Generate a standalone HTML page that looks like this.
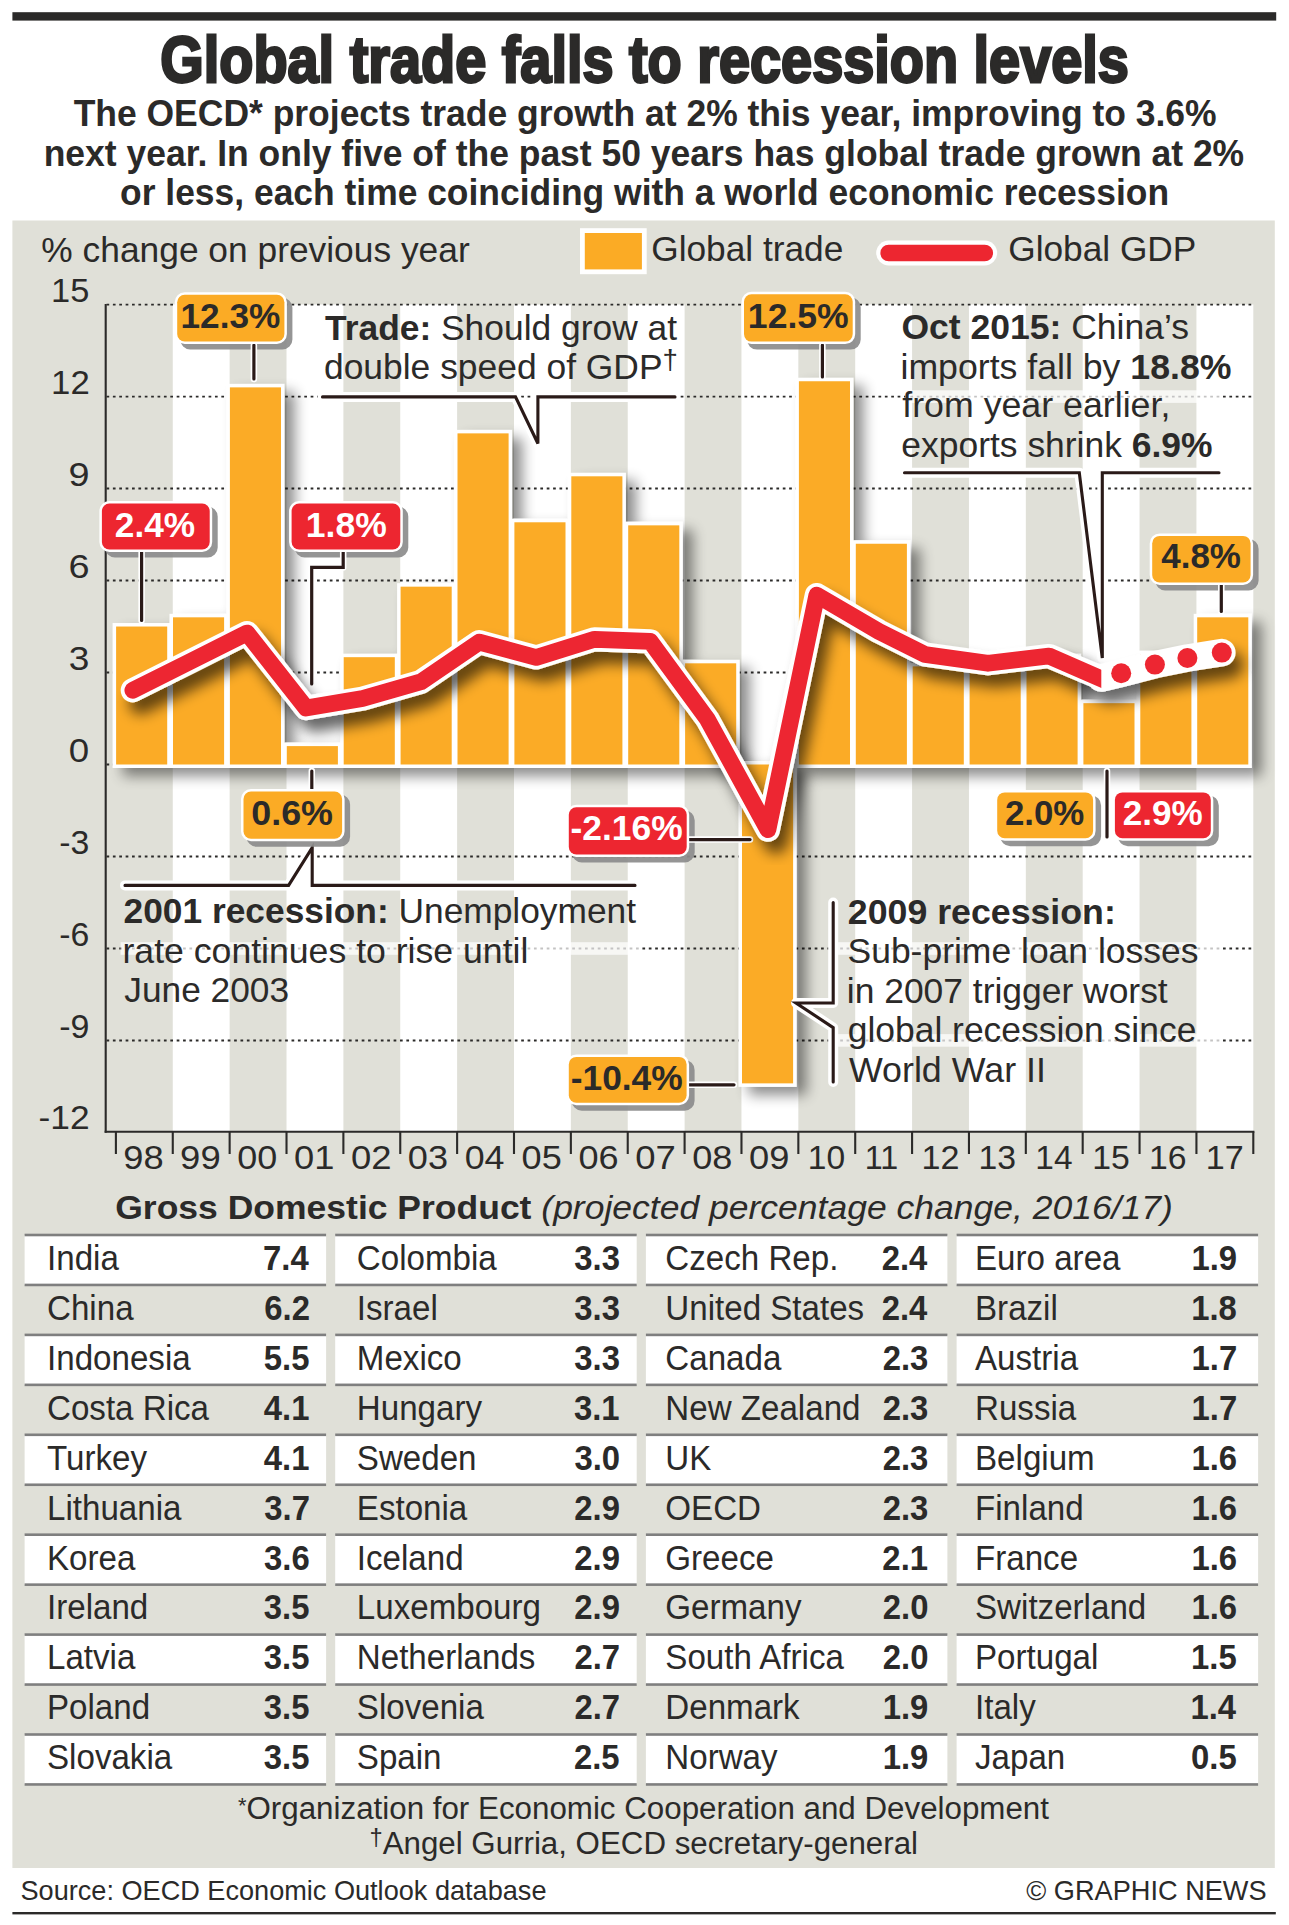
<!DOCTYPE html>
<html lang="en"><head><meta charset="utf-8"><title>Global trade falls to recession levels</title>
<style>html,body{margin:0;padding:0;background:#fff}svg{display:block}text{font-family:"Liberation Sans",Arial,Helvetica,sans-serif;white-space:pre}</style>
</head><body>
<svg width="1289" height="1925" viewBox="0 0 1289 1925">
<rect x="0" y="0" width="1289" height="1925" fill="#fff"/>
<rect x="12.4" y="12.2" width="1263.8" height="8.4" fill="#2b2a29"/>
<text x="160.37" y="82.20" font-size="64.50" fill="#2b2a29" textLength="968.50" lengthAdjust="spacingAndGlyphs" font-weight="bold" stroke="#2b2a29" stroke-width="2.8" stroke-linejoin="miter" stroke-miterlimit="3">Global trade falls to recession levels</text>
<text x="73.65" y="126.40" font-size="36.00" fill="#2b2a29" textLength="1142.94" lengthAdjust="spacingAndGlyphs" font-weight="bold">The OECD* projects trade growth at 2% this year, improving to 3.6%</text>
<text x="43.69" y="166.00" font-size="36.00" fill="#2b2a29" textLength="1200.48" lengthAdjust="spacingAndGlyphs" font-weight="bold">next year. In only five of the past 50 years has global trade grown at 2%</text>
<text x="120.08" y="205.20" font-size="36.00" fill="#2b2a29" textLength="1049.04" lengthAdjust="spacingAndGlyphs" font-weight="bold">or less, each time coinciding with a world economic recession</text>
<rect x="12.4" y="220.5" width="1262.4" height="1647.5" fill="#e0e0d8"/>
<rect x="172.77" y="304.5" width="56.87" height="826.70" fill="#fff"/>
<rect x="286.51" y="304.5" width="56.87" height="826.70" fill="#fff"/>
<rect x="400.25" y="304.5" width="56.87" height="826.70" fill="#fff"/>
<rect x="513.99" y="304.5" width="56.87" height="826.70" fill="#fff"/>
<rect x="627.73" y="304.5" width="56.87" height="826.70" fill="#fff"/>
<rect x="741.47" y="304.5" width="56.87" height="826.70" fill="#fff"/>
<rect x="855.21" y="304.5" width="56.87" height="826.70" fill="#fff"/>
<rect x="968.95" y="304.5" width="56.87" height="826.70" fill="#fff"/>
<rect x="1082.69" y="304.5" width="56.87" height="826.70" fill="#fff"/>
<rect x="1196.43" y="304.5" width="56.87" height="826.70" fill="#fff"/>
<g stroke="#2b2a29" stroke-width="1.9" stroke-dasharray="2.7 3.68" fill="none">
<path d="M106.5 304.60H1252.5"/>
<path d="M106.5 396.58H1252.5"/>
<path d="M106.5 488.56H1252.5"/>
<path d="M106.5 580.54H1252.5"/>
<path d="M106.5 672.52H1252.5"/>
<path d="M106.5 764.50H1252.5"/>
<path d="M106.5 856.48H1252.5"/>
<path d="M106.5 948.46H1252.5"/>
<path d="M106.5 1040.44H1252.5"/>
</g>
<rect x="120.6" y="942.2" width="519.4" height="12.6" fill="#fff" opacity="0.72"/>
<rect x="838.0" y="942.2" width="383.0" height="12.6" fill="#fff" opacity="0.72"/>
<rect x="838.0" y="1034.1" width="383.0" height="12.6" fill="#fff" opacity="0.72"/>
<rect x="905.0" y="390.3" width="317.0" height="12.6" fill="#fff" opacity="0.72"/>
<g stroke="#2b2a29" stroke-width="2.1" fill="none">
<path d="M105.7 304V1132.7"/>
<path d="M104.65 1131.7H1254.4"/>
<path d="M115.90 1131.7V1154"/>
<path d="M172.77 1131.7V1154"/>
<path d="M229.64 1131.7V1154"/>
<path d="M286.51 1131.7V1154"/>
<path d="M343.38 1131.7V1154"/>
<path d="M400.25 1131.7V1154"/>
<path d="M457.12 1131.7V1154"/>
<path d="M513.99 1131.7V1154"/>
<path d="M570.86 1131.7V1154"/>
<path d="M627.73 1131.7V1154"/>
<path d="M684.60 1131.7V1154"/>
<path d="M741.47 1131.7V1154"/>
<path d="M798.34 1131.7V1154"/>
<path d="M855.21 1131.7V1154"/>
<path d="M912.08 1131.7V1154"/>
<path d="M968.95 1131.7V1154"/>
<path d="M1025.82 1131.7V1154"/>
<path d="M1082.69 1131.7V1154"/>
<path d="M1139.56 1131.7V1154"/>
<path d="M1196.43 1131.7V1154"/>
<path d="M1253.30 1131.7V1154"/>
</g>
<text x="51.12" y="302.40" font-size="33.40" fill="#2b2a29" textLength="38.23" lengthAdjust="spacingAndGlyphs">15</text>
<text x="51.10" y="394.38" font-size="33.40" fill="#2b2a29" textLength="38.62" lengthAdjust="spacingAndGlyphs">12</text>
<text x="68.60" y="486.36" font-size="33.40" fill="#2b2a29" textLength="21.05" lengthAdjust="spacingAndGlyphs">9</text>
<text x="68.41" y="578.34" font-size="33.40" fill="#2b2a29" textLength="21.05" lengthAdjust="spacingAndGlyphs">6</text>
<text x="68.82" y="670.32" font-size="33.40" fill="#2b2a29" textLength="20.61" lengthAdjust="spacingAndGlyphs">3</text>
<text x="68.83" y="762.30" font-size="33.40" fill="#2b2a29" textLength="20.39" lengthAdjust="spacingAndGlyphs">0</text>
<text x="59.18" y="854.28" font-size="33.40" fill="#2b2a29" textLength="30.05" lengthAdjust="spacingAndGlyphs">-3</text>
<text x="59.18" y="946.26" font-size="33.40" fill="#2b2a29" textLength="30.05" lengthAdjust="spacingAndGlyphs">-6</text>
<text x="59.17" y="1038.24" font-size="33.40" fill="#2b2a29" textLength="30.23" lengthAdjust="spacingAndGlyphs">-9</text>
<text x="38.61" y="1129.10" font-size="33.40" fill="#2b2a29" textLength="51.07" lengthAdjust="spacingAndGlyphs">-12</text>
<text x="123.27" y="1169.00" font-size="32.50" fill="#2b2a29" textLength="40.37" lengthAdjust="spacingAndGlyphs">98</text>
<text x="180.13" y="1169.00" font-size="32.50" fill="#2b2a29" textLength="40.57" lengthAdjust="spacingAndGlyphs">99</text>
<text x="237.20" y="1169.00" font-size="32.50" fill="#2b2a29" textLength="39.98" lengthAdjust="spacingAndGlyphs">00</text>
<text x="294.06" y="1169.00" font-size="32.50" fill="#2b2a29" textLength="40.37" lengthAdjust="spacingAndGlyphs">01</text>
<text x="350.92" y="1169.00" font-size="32.50" fill="#2b2a29" textLength="40.57" lengthAdjust="spacingAndGlyphs">02</text>
<text x="407.81" y="1169.00" font-size="32.50" fill="#2b2a29" textLength="40.17" lengthAdjust="spacingAndGlyphs">03</text>
<text x="464.69" y="1169.00" font-size="32.50" fill="#2b2a29" textLength="39.79" lengthAdjust="spacingAndGlyphs">04</text>
<text x="521.55" y="1169.00" font-size="32.50" fill="#2b2a29" textLength="40.17" lengthAdjust="spacingAndGlyphs">05</text>
<text x="578.42" y="1169.00" font-size="32.50" fill="#2b2a29" textLength="40.17" lengthAdjust="spacingAndGlyphs">06</text>
<text x="635.27" y="1169.00" font-size="32.50" fill="#2b2a29" textLength="40.57" lengthAdjust="spacingAndGlyphs">07</text>
<text x="692.16" y="1169.00" font-size="32.50" fill="#2b2a29" textLength="40.17" lengthAdjust="spacingAndGlyphs">08</text>
<text x="749.02" y="1169.00" font-size="32.50" fill="#2b2a29" textLength="40.37" lengthAdjust="spacingAndGlyphs">09</text>
<text x="807.82" y="1169.00" font-size="32.50" fill="#2b2a29" textLength="37.37" lengthAdjust="spacingAndGlyphs">10</text>
<text x="864.79" y="1169.00" font-size="32.50" fill="#2b2a29" textLength="33.47" lengthAdjust="spacingAndGlyphs">11</text>
<text x="921.52" y="1169.00" font-size="32.50" fill="#2b2a29" textLength="37.94" lengthAdjust="spacingAndGlyphs">12</text>
<text x="978.42" y="1169.00" font-size="32.50" fill="#2b2a29" textLength="37.56" lengthAdjust="spacingAndGlyphs">13</text>
<text x="1035.31" y="1169.00" font-size="32.50" fill="#2b2a29" textLength="37.19" lengthAdjust="spacingAndGlyphs">14</text>
<text x="1092.16" y="1169.00" font-size="32.50" fill="#2b2a29" textLength="37.56" lengthAdjust="spacingAndGlyphs">15</text>
<text x="1149.03" y="1169.00" font-size="32.50" fill="#2b2a29" textLength="37.56" lengthAdjust="spacingAndGlyphs">16</text>
<text x="1205.87" y="1169.00" font-size="32.50" fill="#2b2a29" textLength="37.94" lengthAdjust="spacingAndGlyphs">17</text>
<text x="41.36" y="261.50" font-size="35.20" fill="#2b2a29" textLength="428.31" lengthAdjust="spacingAndGlyphs">% change on previous year</text>
<rect x="582.4" y="230.6" width="61.9" height="41.2" fill="#fbab25" stroke="#fff" stroke-width="4.8"/>
<text x="651.24" y="261.00" font-size="35.20" fill="#2b2a29" textLength="192.05" lengthAdjust="spacingAndGlyphs">Global trade</text>
<path d="M888.7 253.0H984.7" stroke="#fff" stroke-width="25" stroke-linecap="round"/>
<path d="M888.7 253.0H984.7" stroke="#ed2630" stroke-width="16.7" stroke-linecap="round"/>
<text x="1008.24" y="261.20" font-size="35.20" fill="#2b2a29" textLength="188.04" lengthAdjust="spacingAndGlyphs">Global GDP</text>
<defs>
<filter id="sb" x="-5%" y="-5%" width="112%" height="112%"><feGaussianBlur in="SourceAlpha" stdDeviation="7"/><feOffset dx="10" dy="7.5"/><feComponentTransfer><feFuncA type="linear" slope="0.46"/></feComponentTransfer><feMerge><feMergeNode/><feMergeNode in="SourceGraphic"/></feMerge></filter>
<filter id="sl" x="-5%" y="-10%" width="112%" height="125%"><feGaussianBlur in="SourceAlpha" stdDeviation="7"/><feOffset dx="8" dy="12"/><feComponentTransfer><feFuncA type="linear" slope="0.6"/></feComponentTransfer><feMerge><feMergeNode/><feMergeNode in="SourceGraphic"/></feMerge></filter>
<clipPath id="cutr"><rect x="0" y="280" width="1101.3" height="900"/></clipPath>
</defs>
<g filter="url(#sb)">
<rect x="112.60" y="623.03" width="58.10" height="144.97" fill="#fff"/>
<rect x="169.50" y="613.83" width="58.10" height="154.17" fill="#fff"/>
<rect x="226.40" y="383.88" width="58.10" height="384.12" fill="#fff"/>
<rect x="283.30" y="742.60" width="58.10" height="25.40" fill="#fff"/>
<rect x="340.20" y="653.69" width="58.10" height="114.31" fill="#fff"/>
<rect x="397.10" y="583.17" width="58.10" height="184.83" fill="#fff"/>
<rect x="454.00" y="429.87" width="58.10" height="338.13" fill="#fff"/>
<rect x="510.90" y="518.79" width="58.10" height="249.21" fill="#fff"/>
<rect x="567.80" y="472.80" width="58.10" height="295.20" fill="#fff"/>
<rect x="624.70" y="521.85" width="58.10" height="246.15" fill="#fff"/>
<rect x="681.60" y="659.82" width="58.10" height="108.18" fill="#fff"/>
<rect x="738.50" y="761.00" width="58.10" height="325.86" fill="#fff"/>
<rect x="795.40" y="377.75" width="58.10" height="390.25" fill="#fff"/>
<rect x="852.30" y="540.25" width="58.10" height="227.75" fill="#fff"/>
<rect x="909.20" y="662.89" width="58.10" height="105.11" fill="#fff"/>
<rect x="966.10" y="656.76" width="58.10" height="111.24" fill="#fff"/>
<rect x="1023.00" y="653.69" width="58.10" height="114.31" fill="#fff"/>
<rect x="1079.90" y="699.68" width="58.10" height="68.32" fill="#fff"/>
<rect x="1136.80" y="650.62" width="58.10" height="117.38" fill="#fff"/>
<rect x="1193.70" y="613.83" width="58.10" height="154.17" fill="#fff"/>
<rect x="116.10" y="626.53" width="51.10" height="137.97" fill="#fbab25"/>
<rect x="173.00" y="617.33" width="51.10" height="147.17" fill="#fbab25"/>
<rect x="229.90" y="387.38" width="51.10" height="377.12" fill="#fbab25"/>
<rect x="286.80" y="746.10" width="51.10" height="18.40" fill="#fbab25"/>
<rect x="343.70" y="657.19" width="51.10" height="107.31" fill="#fbab25"/>
<rect x="400.60" y="586.67" width="51.10" height="177.83" fill="#fbab25"/>
<rect x="457.50" y="433.37" width="51.10" height="331.13" fill="#fbab25"/>
<rect x="514.40" y="522.29" width="51.10" height="242.21" fill="#fbab25"/>
<rect x="571.30" y="476.30" width="51.10" height="288.20" fill="#fbab25"/>
<rect x="628.20" y="525.35" width="51.10" height="239.15" fill="#fbab25"/>
<rect x="685.10" y="663.32" width="51.10" height="101.18" fill="#fbab25"/>
<rect x="742.00" y="764.50" width="51.10" height="318.86" fill="#fbab25"/>
<rect x="798.90" y="381.25" width="51.10" height="383.25" fill="#fbab25"/>
<rect x="855.80" y="543.75" width="51.10" height="220.75" fill="#fbab25"/>
<rect x="912.70" y="666.39" width="51.10" height="98.11" fill="#fbab25"/>
<rect x="969.60" y="660.26" width="51.10" height="104.24" fill="#fbab25"/>
<rect x="1026.50" y="657.19" width="51.10" height="107.31" fill="#fbab25"/>
<rect x="1083.40" y="703.18" width="51.10" height="61.32" fill="#fbab25"/>
<rect x="1140.30" y="654.12" width="51.10" height="110.38" fill="#fbab25"/>
<rect x="1197.20" y="617.33" width="51.10" height="147.17" fill="#fbab25"/>
</g>
<path d="M322.5 396.9H515.5L537.9 443.5V396.9H675" fill="none" stroke="#fff" stroke-width="10" stroke-linecap="round" stroke-linejoin="round"/>
<path d="M322.5 396.9H515.5L537.9 443.5V396.9H675" fill="none" stroke="#2a1a18" stroke-width="3.1" stroke-linecap="round" stroke-linejoin="miter"/>
<path d="M904.5 472.8H1079.3L1102.3 658V472.8H1219" fill="none" stroke="#fff" stroke-width="10" stroke-linecap="round" stroke-linejoin="round"/>
<path d="M904.5 472.8H1079.3L1102.3 658V472.8H1219" fill="none" stroke="#2a1a18" stroke-width="3.1" stroke-linecap="round" stroke-linejoin="miter"/>
<path d="M125 885.4H288.6L312.2 847.6V885.4H635" fill="none" stroke="#fff" stroke-width="10" stroke-linecap="round" stroke-linejoin="round"/>
<path d="M125 885.4H288.6L312.2 847.6V885.4H635" fill="none" stroke="#2a1a18" stroke-width="3.1" stroke-linecap="round" stroke-linejoin="miter"/>
<path d="M833.2 902.5V1003H796L833.2 1027.6V1082" fill="none" stroke="#fff" stroke-width="10" stroke-linecap="round" stroke-linejoin="round"/>
<path d="M833.2 902.5V1003H796L833.2 1027.6V1082" fill="none" stroke="#2a1a18" stroke-width="3.1" stroke-linecap="round" stroke-linejoin="miter"/>
<rect x="182.7" y="300.3" width="107.2" height="46.7" rx="7.5" fill="#8d8d8d" stroke="#8d8d8d" stroke-width="5" opacity="0.93"/>
<rect x="749.5" y="299.8" width="108.7" height="47.3" rx="7.5" fill="#8d8d8d" stroke="#8d8d8d" stroke-width="5" opacity="0.93"/>
<rect x="107.4" y="509.1" width="107.8" height="45.9" rx="7.5" fill="#8d8d8d" stroke="#8d8d8d" stroke-width="5" opacity="0.93"/>
<rect x="297.1" y="509.1" width="108.7" height="45.9" rx="7.5" fill="#8d8d8d" stroke="#8d8d8d" stroke-width="5" opacity="0.93"/>
<rect x="249.0" y="797.1" width="98.6" height="47.1" rx="7.5" fill="#8d8d8d" stroke="#8d8d8d" stroke-width="5" opacity="0.93"/>
<rect x="574.3" y="812.8" width="117.9" height="47.1" rx="7.5" fill="#8d8d8d" stroke="#8d8d8d" stroke-width="5" opacity="0.93"/>
<rect x="574.3" y="1062.4" width="117.8" height="45.9" rx="7.5" fill="#8d8d8d" stroke="#8d8d8d" stroke-width="5" opacity="0.93"/>
<rect x="1002.7" y="797.9" width="95.9" height="45.8" rx="7.5" fill="#8d8d8d" stroke="#8d8d8d" stroke-width="5" opacity="0.93"/>
<rect x="1120.4" y="797.9" width="95.9" height="45.8" rx="7.5" fill="#8d8d8d" stroke="#8d8d8d" stroke-width="5" opacity="0.93"/>
<rect x="1157.7" y="541.4" width="98.4" height="46.6" rx="7.5" fill="#8d8d8d" stroke="#8d8d8d" stroke-width="5" opacity="0.93"/>
<path d="M253.9 345V379" fill="none" stroke="#fff" stroke-width="6.5" stroke-linecap="round" stroke-linejoin="round"/>
<path d="M253.9 345V379" fill="none" stroke="#2a1a18" stroke-width="3.2" stroke-linecap="round" stroke-linejoin="miter"/>
<path d="M822.4 345V377" fill="none" stroke="#fff" stroke-width="6.5" stroke-linecap="round" stroke-linejoin="round"/>
<path d="M822.4 345V377" fill="none" stroke="#2a1a18" stroke-width="3.2" stroke-linecap="round" stroke-linejoin="miter"/>
<path d="M141.6 550V620.5" fill="none" stroke="#fff" stroke-width="6.5" stroke-linecap="round" stroke-linejoin="round"/>
<path d="M141.6 550V620.5" fill="none" stroke="#2a1a18" stroke-width="3.2" stroke-linecap="round" stroke-linejoin="miter"/>
<path d="M343.2 550V567.4H311.7V684" fill="none" stroke="#fff" stroke-width="6.5" stroke-linecap="round" stroke-linejoin="round"/>
<path d="M343.2 550V567.4H311.7V684" fill="none" stroke="#2a1a18" stroke-width="3.2" stroke-linecap="round" stroke-linejoin="miter"/>
<path d="M311.8 771V789" fill="none" stroke="#fff" stroke-width="6.5" stroke-linecap="round" stroke-linejoin="round"/>
<path d="M311.8 771V789" fill="none" stroke="#2a1a18" stroke-width="3.2" stroke-linecap="round" stroke-linejoin="miter"/>
<path d="M687 839.6H750" fill="none" stroke="#fff" stroke-width="6.5" stroke-linecap="round" stroke-linejoin="round"/>
<path d="M687 839.6H750" fill="none" stroke="#2a1a18" stroke-width="3.2" stroke-linecap="round" stroke-linejoin="miter"/>
<path d="M687 1084.8H734" fill="none" stroke="#fff" stroke-width="6.5" stroke-linecap="round" stroke-linejoin="round"/>
<path d="M687 1084.8H734" fill="none" stroke="#2a1a18" stroke-width="3.2" stroke-linecap="round" stroke-linejoin="miter"/>
<path d="M1107 771V837" fill="none" stroke="#fff" stroke-width="6.5" stroke-linecap="round" stroke-linejoin="round"/>
<path d="M1107 771V837" fill="none" stroke="#2a1a18" stroke-width="3.2" stroke-linecap="round" stroke-linejoin="miter"/>
<path d="M1221.3 585V611.5" fill="none" stroke="#fff" stroke-width="6.5" stroke-linecap="round" stroke-linejoin="round"/>
<path d="M1221.3 585V611.5" fill="none" stroke="#2a1a18" stroke-width="3.2" stroke-linecap="round" stroke-linejoin="miter"/>
<g filter="url(#sl)">
<path d="M132.8 690.3 L190.0 661.6 L247.0 633.0 L306.0 708.0 L362.6 698.6 L421.0 681.8 L479.3 642.1 L536.2 657.5 L594.5 639.3 L650.3 641.4 L707.5 719.4 L767.9 829.7 L816.8 595.1 L879.0 631.5 L925.0 654.5 L988.0 663.3 L1049.0 656.0 L1101.3 678.0" fill="none" stroke="#fff" stroke-width="24.20" stroke-linecap="round" stroke-linejoin="round"/>
<path d="M1101.3 678.0 L1121.2 673.3 L1154.9 664.6 L1187.4 658.0 L1221.8 652.6" fill="none" stroke="#fff" stroke-width="27.50" stroke-linecap="round" stroke-linejoin="round"/>
<path d="M132.8 690.3 L190.0 661.6 L247.0 633.0 L306.0 708.0 L362.6 698.6 L421.0 681.8 L479.3 642.1 L536.2 657.5 L594.5 639.3 L650.3 641.4 L707.5 719.4 L767.9 829.7 L816.8 595.1 L879.0 631.5 L925.0 654.5 L988.0 663.3 L1049.0 656.0 L1108.8 682.0" fill="none" stroke="#ed2630" stroke-width="16.7" stroke-linecap="round" stroke-linejoin="round" clip-path="url(#cutr)"/>
<circle cx="1121.2" cy="673.3" r="10" fill="#ed2630"/>
<circle cx="1154.9" cy="664.6" r="10" fill="#ed2630"/>
<circle cx="1187.4" cy="658.0" r="10" fill="#ed2630"/>
<circle cx="1221.8" cy="652.6" r="10" fill="#ed2630"/>
</g>
<rect x="177.2" y="294.8" width="107.2" height="46.7" rx="7.5" fill="#fbab25" stroke="#fff" stroke-width="5" paint-order="stroke"/>
<text x="180.49" y="327.90" font-size="35.00" fill="#2b2a29" textLength="99.81" lengthAdjust="spacingAndGlyphs" font-weight="bold">12.3%</text>
<rect x="744.0" y="294.3" width="108.7" height="47.3" rx="7.5" fill="#fbab25" stroke="#fff" stroke-width="5" paint-order="stroke"/>
<text x="747.87" y="328.20" font-size="35.00" fill="#2b2a29" textLength="100.84" lengthAdjust="spacingAndGlyphs" font-weight="bold">12.5%</text>
<rect x="101.9" y="503.6" width="107.8" height="45.9" rx="7.5" fill="#ed2630" stroke="#fff" stroke-width="5" paint-order="stroke"/>
<text x="114.87" y="536.90" font-size="35.00" fill="#fff" textLength="80.29" lengthAdjust="spacingAndGlyphs" font-weight="bold">2.4%</text>
<rect x="291.6" y="503.6" width="108.7" height="45.9" rx="7.5" fill="#ed2630" stroke="#fff" stroke-width="5" paint-order="stroke"/>
<text x="305.87" y="536.90" font-size="35.00" fill="#fff" textLength="80.89" lengthAdjust="spacingAndGlyphs" font-weight="bold">1.8%</text>
<rect x="243.5" y="791.6" width="98.6" height="47.1" rx="7.5" fill="#fbab25" stroke="#fff" stroke-width="5" paint-order="stroke"/>
<text x="251.27" y="825.30" font-size="35.00" fill="#2b2a29" textLength="81.70" lengthAdjust="spacingAndGlyphs" font-weight="bold">0.6%</text>
<rect x="568.8" y="807.3" width="117.9" height="47.1" rx="7.5" fill="#ed2630" stroke="#fff" stroke-width="5" paint-order="stroke"/>
<text x="570.59" y="840.10" font-size="35.00" fill="#fff" textLength="112.05" lengthAdjust="spacingAndGlyphs" font-weight="bold">-2.16%</text>
<rect x="568.8" y="1056.9" width="117.8" height="45.9" rx="7.5" fill="#fbab25" stroke="#fff" stroke-width="5" paint-order="stroke"/>
<text x="570.69" y="1090.30" font-size="35.00" fill="#2b2a29" textLength="112.05" lengthAdjust="spacingAndGlyphs" font-weight="bold">-10.4%</text>
<rect x="997.2" y="792.4" width="95.9" height="45.8" rx="7.5" fill="#fbab25" stroke="#fff" stroke-width="5" paint-order="stroke"/>
<text x="1004.98" y="824.60" font-size="35.00" fill="#2b2a29" textLength="79.36" lengthAdjust="spacingAndGlyphs" font-weight="bold">2.0%</text>
<rect x="1114.9" y="792.4" width="95.9" height="45.8" rx="7.5" fill="#ed2630" stroke="#fff" stroke-width="5" paint-order="stroke"/>
<text x="1122.67" y="824.60" font-size="35.00" fill="#fff" textLength="79.98" lengthAdjust="spacingAndGlyphs" font-weight="bold">2.9%</text>
<rect x="1152.2" y="535.9" width="98.4" height="46.6" rx="7.5" fill="#fbab25" stroke="#fff" stroke-width="5" paint-order="stroke"/>
<text x="1161.28" y="568.10" font-size="35.00" fill="#2b2a29" textLength="79.67" lengthAdjust="spacingAndGlyphs" font-weight="bold">4.8%</text>
<text x="325.05" y="339.70" font-size="35.20" fill="#2b2a29" textLength="351.97" lengthAdjust="spacingAndGlyphs"><tspan font-weight="bold">Trade:</tspan><tspan> Should grow at</tspan></text>
<text x="323.98" y="379.20" font-size="35.20" fill="#2b2a29" textLength="353.94" lengthAdjust="spacingAndGlyphs"><tspan>double speed of GDP</tspan><tspan font-size="27.46" dy="-10.30">†</tspan></text>
<text x="901.38" y="339.20" font-size="35.20" fill="#2b2a29" textLength="287.66" lengthAdjust="spacingAndGlyphs"><tspan font-weight="bold">Oct 2015:</tspan><tspan> China’s</tspan></text>
<text x="900.48" y="378.80" font-size="35.20" fill="#2b2a29" textLength="331.03" lengthAdjust="spacingAndGlyphs"><tspan>imports fall by </tspan><tspan font-weight="bold">18.8%</tspan></text>
<text x="902.26" y="417.20" font-size="35.20" fill="#2b2a29" textLength="268.07" lengthAdjust="spacingAndGlyphs">from year earlier,</text>
<text x="901.38" y="456.60" font-size="35.20" fill="#2b2a29" textLength="311.08" lengthAdjust="spacingAndGlyphs"><tspan>exports shrink </tspan><tspan font-weight="bold">6.9%</tspan></text>
<text x="123.56" y="923.20" font-size="35.20" fill="#2b2a29" textLength="512.52" lengthAdjust="spacingAndGlyphs"><tspan font-weight="bold">2001 recession:</tspan><tspan> Unemployment</tspan></text>
<text x="122.48" y="962.60" font-size="35.20" fill="#2b2a29" textLength="405.94" lengthAdjust="spacingAndGlyphs">rate continues to rise until</text>
<text x="124.27" y="1001.60" font-size="35.20" fill="#2b2a29" textLength="164.78" lengthAdjust="spacingAndGlyphs">June 2003</text>
<text x="847.85" y="923.60" font-size="35.20" fill="#2b2a29" textLength="267.92" lengthAdjust="spacingAndGlyphs" font-weight="bold">2009 recession:</text>
<text x="847.50" y="963.30" font-size="35.20" fill="#2b2a29" textLength="351.00" lengthAdjust="spacingAndGlyphs">Sub-prime loan losses</text>
<text x="846.80" y="1002.80" font-size="35.20" fill="#2b2a29" textLength="320.89" lengthAdjust="spacingAndGlyphs">in 2007 trigger worst</text>
<text x="847.68" y="1042.20" font-size="35.20" fill="#2b2a29" textLength="348.68" lengthAdjust="spacingAndGlyphs">global recession since</text>
<text x="848.92" y="1081.70" font-size="35.20" fill="#2b2a29" textLength="197.02" lengthAdjust="spacingAndGlyphs">World War II</text>
<text x="115.28" y="1219.10" font-size="34.00" fill="#2b2a29" textLength="1057.51" lengthAdjust="spacingAndGlyphs"><tspan font-weight="bold">Gross Domestic Product</tspan><tspan font-style="italic"> (projected percentage change, 2016/17)</tspan></text>
<rect x="24.6" y="1235.00" width="301.5" height="49.95" fill="#fff"/>
<rect x="24.6" y="1334.90" width="301.5" height="49.95" fill="#fff"/>
<rect x="24.6" y="1434.80" width="301.5" height="49.95" fill="#fff"/>
<rect x="24.6" y="1534.70" width="301.5" height="49.95" fill="#fff"/>
<rect x="24.6" y="1634.60" width="301.5" height="49.95" fill="#fff"/>
<rect x="24.6" y="1734.50" width="301.5" height="49.95" fill="#fff"/>
<rect x="24.6" y="1233.70" width="301.5" height="2.6" fill="#7f7f7f"/>
<rect x="24.6" y="1283.65" width="301.5" height="2.6" fill="#7f7f7f"/>
<rect x="24.6" y="1333.60" width="301.5" height="2.6" fill="#7f7f7f"/>
<rect x="24.6" y="1383.55" width="301.5" height="2.6" fill="#7f7f7f"/>
<rect x="24.6" y="1433.50" width="301.5" height="2.6" fill="#7f7f7f"/>
<rect x="24.6" y="1483.45" width="301.5" height="2.6" fill="#7f7f7f"/>
<rect x="24.6" y="1533.40" width="301.5" height="2.6" fill="#7f7f7f"/>
<rect x="24.6" y="1583.35" width="301.5" height="2.6" fill="#7f7f7f"/>
<rect x="24.6" y="1633.30" width="301.5" height="2.6" fill="#7f7f7f"/>
<rect x="24.6" y="1683.25" width="301.5" height="2.6" fill="#7f7f7f"/>
<rect x="24.6" y="1733.20" width="301.5" height="2.6" fill="#7f7f7f"/>
<rect x="24.6" y="1783.15" width="301.5" height="2.6" fill="#7f7f7f"/>
<text x="47.00" y="1269.80" font-size="34.40" fill="#2b2a29" textLength="71.84" lengthAdjust="spacingAndGlyphs">India</text>
<text x="263.10" y="1269.80" font-size="34.40" fill="#2b2a29" textLength="45.67" lengthAdjust="spacingAndGlyphs" font-weight="bold">7.4</text>
<text x="47.00" y="1319.75" font-size="34.40" fill="#2b2a29" textLength="86.56" lengthAdjust="spacingAndGlyphs">China</text>
<text x="264.25" y="1319.75" font-size="34.40" fill="#2b2a29" textLength="45.67" lengthAdjust="spacingAndGlyphs" font-weight="bold">6.2</text>
<text x="47.00" y="1369.70" font-size="34.40" fill="#2b2a29" textLength="143.67" lengthAdjust="spacingAndGlyphs">Indonesia</text>
<text x="263.76" y="1369.70" font-size="34.40" fill="#2b2a29" textLength="45.67" lengthAdjust="spacingAndGlyphs" font-weight="bold">5.5</text>
<text x="47.00" y="1419.65" font-size="34.40" fill="#2b2a29" textLength="162.02" lengthAdjust="spacingAndGlyphs">Costa Rica</text>
<text x="263.76" y="1419.65" font-size="34.40" fill="#2b2a29" textLength="45.67" lengthAdjust="spacingAndGlyphs" font-weight="bold">4.1</text>
<text x="47.00" y="1469.60" font-size="34.40" fill="#2b2a29" textLength="100.02" lengthAdjust="spacingAndGlyphs">Turkey</text>
<text x="263.76" y="1469.60" font-size="34.40" fill="#2b2a29" textLength="45.67" lengthAdjust="spacingAndGlyphs" font-weight="bold">4.1</text>
<text x="47.00" y="1519.55" font-size="34.40" fill="#2b2a29" textLength="134.47" lengthAdjust="spacingAndGlyphs">Lithuania</text>
<text x="264.25" y="1519.55" font-size="34.40" fill="#2b2a29" textLength="45.67" lengthAdjust="spacingAndGlyphs" font-weight="bold">3.7</text>
<text x="47.00" y="1569.50" font-size="34.40" fill="#2b2a29" textLength="88.40" lengthAdjust="spacingAndGlyphs">Korea</text>
<text x="264.09" y="1569.50" font-size="34.40" fill="#2b2a29" textLength="45.67" lengthAdjust="spacingAndGlyphs" font-weight="bold">3.6</text>
<text x="47.00" y="1619.45" font-size="34.40" fill="#2b2a29" textLength="101.29" lengthAdjust="spacingAndGlyphs">Ireland</text>
<text x="263.76" y="1619.45" font-size="34.40" fill="#2b2a29" textLength="45.67" lengthAdjust="spacingAndGlyphs" font-weight="bold">3.5</text>
<text x="47.00" y="1669.40" font-size="34.40" fill="#2b2a29" textLength="88.40" lengthAdjust="spacingAndGlyphs">Latvia</text>
<text x="263.76" y="1669.40" font-size="34.40" fill="#2b2a29" textLength="45.67" lengthAdjust="spacingAndGlyphs" font-weight="bold">3.5</text>
<text x="47.00" y="1719.35" font-size="34.40" fill="#2b2a29" textLength="103.15" lengthAdjust="spacingAndGlyphs">Poland</text>
<text x="263.76" y="1719.35" font-size="34.40" fill="#2b2a29" textLength="45.67" lengthAdjust="spacingAndGlyphs" font-weight="bold">3.5</text>
<text x="47.00" y="1769.30" font-size="34.40" fill="#2b2a29" textLength="125.22" lengthAdjust="spacingAndGlyphs">Slovakia</text>
<text x="263.76" y="1769.30" font-size="34.40" fill="#2b2a29" textLength="45.67" lengthAdjust="spacingAndGlyphs" font-weight="bold">3.5</text>
<rect x="335.2" y="1235.00" width="301.5" height="49.95" fill="#fff"/>
<rect x="335.2" y="1334.90" width="301.5" height="49.95" fill="#fff"/>
<rect x="335.2" y="1434.80" width="301.5" height="49.95" fill="#fff"/>
<rect x="335.2" y="1534.70" width="301.5" height="49.95" fill="#fff"/>
<rect x="335.2" y="1634.60" width="301.5" height="49.95" fill="#fff"/>
<rect x="335.2" y="1734.50" width="301.5" height="49.95" fill="#fff"/>
<rect x="335.2" y="1233.70" width="301.5" height="2.6" fill="#7f7f7f"/>
<rect x="335.2" y="1283.65" width="301.5" height="2.6" fill="#7f7f7f"/>
<rect x="335.2" y="1333.60" width="301.5" height="2.6" fill="#7f7f7f"/>
<rect x="335.2" y="1383.55" width="301.5" height="2.6" fill="#7f7f7f"/>
<rect x="335.2" y="1433.50" width="301.5" height="2.6" fill="#7f7f7f"/>
<rect x="335.2" y="1483.45" width="301.5" height="2.6" fill="#7f7f7f"/>
<rect x="335.2" y="1533.40" width="301.5" height="2.6" fill="#7f7f7f"/>
<rect x="335.2" y="1583.35" width="301.5" height="2.6" fill="#7f7f7f"/>
<rect x="335.2" y="1633.30" width="301.5" height="2.6" fill="#7f7f7f"/>
<rect x="335.2" y="1683.25" width="301.5" height="2.6" fill="#7f7f7f"/>
<rect x="335.2" y="1733.20" width="301.5" height="2.6" fill="#7f7f7f"/>
<rect x="335.2" y="1783.15" width="301.5" height="2.6" fill="#7f7f7f"/>
<text x="356.80" y="1269.80" font-size="34.40" fill="#2b2a29" textLength="139.94" lengthAdjust="spacingAndGlyphs">Colombia</text>
<text x="574.29" y="1269.80" font-size="34.40" fill="#2b2a29" textLength="45.67" lengthAdjust="spacingAndGlyphs" font-weight="bold">3.3</text>
<text x="356.80" y="1319.75" font-size="34.40" fill="#2b2a29" textLength="81.01" lengthAdjust="spacingAndGlyphs">Israel</text>
<text x="574.29" y="1319.75" font-size="34.40" fill="#2b2a29" textLength="45.67" lengthAdjust="spacingAndGlyphs" font-weight="bold">3.3</text>
<text x="356.80" y="1369.70" font-size="34.40" fill="#2b2a29" textLength="104.93" lengthAdjust="spacingAndGlyphs">Mexico</text>
<text x="574.29" y="1369.70" font-size="34.40" fill="#2b2a29" textLength="45.67" lengthAdjust="spacingAndGlyphs" font-weight="bold">3.3</text>
<text x="356.80" y="1419.65" font-size="34.40" fill="#2b2a29" textLength="125.22" lengthAdjust="spacingAndGlyphs">Hungary</text>
<text x="573.96" y="1419.65" font-size="34.40" fill="#2b2a29" textLength="45.67" lengthAdjust="spacingAndGlyphs" font-weight="bold">3.1</text>
<text x="356.80" y="1469.60" font-size="34.40" fill="#2b2a29" textLength="119.72" lengthAdjust="spacingAndGlyphs">Sweden</text>
<text x="574.45" y="1469.60" font-size="34.40" fill="#2b2a29" textLength="45.67" lengthAdjust="spacingAndGlyphs" font-weight="bold">3.0</text>
<text x="356.80" y="1519.55" font-size="34.40" fill="#2b2a29" textLength="110.50" lengthAdjust="spacingAndGlyphs">Estonia</text>
<text x="574.29" y="1519.55" font-size="34.40" fill="#2b2a29" textLength="45.67" lengthAdjust="spacingAndGlyphs" font-weight="bold">2.9</text>
<text x="356.80" y="1569.50" font-size="34.40" fill="#2b2a29" textLength="106.82" lengthAdjust="spacingAndGlyphs">Iceland</text>
<text x="574.29" y="1569.50" font-size="34.40" fill="#2b2a29" textLength="45.67" lengthAdjust="spacingAndGlyphs" font-weight="bold">2.9</text>
<text x="356.80" y="1619.45" font-size="34.40" fill="#2b2a29" textLength="184.16" lengthAdjust="spacingAndGlyphs">Luxembourg</text>
<text x="574.29" y="1619.45" font-size="34.40" fill="#2b2a29" textLength="45.67" lengthAdjust="spacingAndGlyphs" font-weight="bold">2.9</text>
<text x="356.80" y="1669.40" font-size="34.40" fill="#2b2a29" textLength="178.63" lengthAdjust="spacingAndGlyphs">Netherlands</text>
<text x="574.45" y="1669.40" font-size="34.40" fill="#2b2a29" textLength="45.67" lengthAdjust="spacingAndGlyphs" font-weight="bold">2.7</text>
<text x="356.80" y="1719.35" font-size="34.40" fill="#2b2a29" textLength="127.08" lengthAdjust="spacingAndGlyphs">Slovenia</text>
<text x="574.45" y="1719.35" font-size="34.40" fill="#2b2a29" textLength="45.67" lengthAdjust="spacingAndGlyphs" font-weight="bold">2.7</text>
<text x="356.80" y="1769.30" font-size="34.40" fill="#2b2a29" textLength="84.73" lengthAdjust="spacingAndGlyphs">Spain</text>
<text x="573.96" y="1769.30" font-size="34.40" fill="#2b2a29" textLength="45.67" lengthAdjust="spacingAndGlyphs" font-weight="bold">2.5</text>
<rect x="645.9" y="1235.00" width="301.5" height="49.95" fill="#fff"/>
<rect x="645.9" y="1334.90" width="301.5" height="49.95" fill="#fff"/>
<rect x="645.9" y="1434.80" width="301.5" height="49.95" fill="#fff"/>
<rect x="645.9" y="1534.70" width="301.5" height="49.95" fill="#fff"/>
<rect x="645.9" y="1634.60" width="301.5" height="49.95" fill="#fff"/>
<rect x="645.9" y="1734.50" width="301.5" height="49.95" fill="#fff"/>
<rect x="645.9" y="1233.70" width="301.5" height="2.6" fill="#7f7f7f"/>
<rect x="645.9" y="1283.65" width="301.5" height="2.6" fill="#7f7f7f"/>
<rect x="645.9" y="1333.60" width="301.5" height="2.6" fill="#7f7f7f"/>
<rect x="645.9" y="1383.55" width="301.5" height="2.6" fill="#7f7f7f"/>
<rect x="645.9" y="1433.50" width="301.5" height="2.6" fill="#7f7f7f"/>
<rect x="645.9" y="1483.45" width="301.5" height="2.6" fill="#7f7f7f"/>
<rect x="645.9" y="1533.40" width="301.5" height="2.6" fill="#7f7f7f"/>
<rect x="645.9" y="1583.35" width="301.5" height="2.6" fill="#7f7f7f"/>
<rect x="645.9" y="1633.30" width="301.5" height="2.6" fill="#7f7f7f"/>
<rect x="645.9" y="1683.25" width="301.5" height="2.6" fill="#7f7f7f"/>
<rect x="645.9" y="1733.20" width="301.5" height="2.6" fill="#7f7f7f"/>
<rect x="645.9" y="1783.15" width="301.5" height="2.6" fill="#7f7f7f"/>
<text x="665.30" y="1269.80" font-size="34.40" fill="#2b2a29" textLength="173.08" lengthAdjust="spacingAndGlyphs">Czech Rep.</text>
<text x="881.70" y="1269.80" font-size="34.40" fill="#2b2a29" textLength="45.67" lengthAdjust="spacingAndGlyphs" font-weight="bold">2.4</text>
<text x="665.30" y="1319.75" font-size="34.40" fill="#2b2a29" textLength="198.88" lengthAdjust="spacingAndGlyphs">United States</text>
<text x="881.70" y="1319.75" font-size="34.40" fill="#2b2a29" textLength="45.67" lengthAdjust="spacingAndGlyphs" font-weight="bold">2.4</text>
<text x="665.30" y="1369.70" font-size="34.40" fill="#2b2a29" textLength="116.05" lengthAdjust="spacingAndGlyphs">Canada</text>
<text x="882.69" y="1369.70" font-size="34.40" fill="#2b2a29" textLength="45.67" lengthAdjust="spacingAndGlyphs" font-weight="bold">2.3</text>
<text x="665.30" y="1419.65" font-size="34.40" fill="#2b2a29" textLength="195.19" lengthAdjust="spacingAndGlyphs">New Zealand</text>
<text x="882.69" y="1419.65" font-size="34.40" fill="#2b2a29" textLength="45.67" lengthAdjust="spacingAndGlyphs" font-weight="bold">2.3</text>
<text x="665.30" y="1469.60" font-size="34.40" fill="#2b2a29" textLength="46.02" lengthAdjust="spacingAndGlyphs">UK</text>
<text x="882.69" y="1469.60" font-size="34.40" fill="#2b2a29" textLength="45.67" lengthAdjust="spacingAndGlyphs" font-weight="bold">2.3</text>
<text x="665.30" y="1519.55" font-size="34.40" fill="#2b2a29" textLength="95.71" lengthAdjust="spacingAndGlyphs">OECD</text>
<text x="882.69" y="1519.55" font-size="34.40" fill="#2b2a29" textLength="45.67" lengthAdjust="spacingAndGlyphs" font-weight="bold">2.3</text>
<text x="665.30" y="1569.50" font-size="34.40" fill="#2b2a29" textLength="108.64" lengthAdjust="spacingAndGlyphs">Greece</text>
<text x="882.36" y="1569.50" font-size="34.40" fill="#2b2a29" textLength="45.67" lengthAdjust="spacingAndGlyphs" font-weight="bold">2.1</text>
<text x="665.30" y="1619.45" font-size="34.40" fill="#2b2a29" textLength="136.23" lengthAdjust="spacingAndGlyphs">Germany</text>
<text x="882.85" y="1619.45" font-size="34.40" fill="#2b2a29" textLength="45.67" lengthAdjust="spacingAndGlyphs" font-weight="bold">2.0</text>
<text x="665.30" y="1669.40" font-size="34.40" fill="#2b2a29" textLength="178.63" lengthAdjust="spacingAndGlyphs">South Africa</text>
<text x="882.85" y="1669.40" font-size="34.40" fill="#2b2a29" textLength="45.67" lengthAdjust="spacingAndGlyphs" font-weight="bold">2.0</text>
<text x="665.30" y="1719.35" font-size="34.40" fill="#2b2a29" textLength="134.39" lengthAdjust="spacingAndGlyphs">Denmark</text>
<text x="882.69" y="1719.35" font-size="34.40" fill="#2b2a29" textLength="45.67" lengthAdjust="spacingAndGlyphs" font-weight="bold">1.9</text>
<text x="665.30" y="1769.30" font-size="34.40" fill="#2b2a29" textLength="112.29" lengthAdjust="spacingAndGlyphs">Norway</text>
<text x="882.69" y="1769.30" font-size="34.40" fill="#2b2a29" textLength="45.67" lengthAdjust="spacingAndGlyphs" font-weight="bold">1.9</text>
<rect x="956.6" y="1235.00" width="301.5" height="49.95" fill="#fff"/>
<rect x="956.6" y="1334.90" width="301.5" height="49.95" fill="#fff"/>
<rect x="956.6" y="1434.80" width="301.5" height="49.95" fill="#fff"/>
<rect x="956.6" y="1534.70" width="301.5" height="49.95" fill="#fff"/>
<rect x="956.6" y="1634.60" width="301.5" height="49.95" fill="#fff"/>
<rect x="956.6" y="1734.50" width="301.5" height="49.95" fill="#fff"/>
<rect x="956.6" y="1233.70" width="301.5" height="2.6" fill="#7f7f7f"/>
<rect x="956.6" y="1283.65" width="301.5" height="2.6" fill="#7f7f7f"/>
<rect x="956.6" y="1333.60" width="301.5" height="2.6" fill="#7f7f7f"/>
<rect x="956.6" y="1383.55" width="301.5" height="2.6" fill="#7f7f7f"/>
<rect x="956.6" y="1433.50" width="301.5" height="2.6" fill="#7f7f7f"/>
<rect x="956.6" y="1483.45" width="301.5" height="2.6" fill="#7f7f7f"/>
<rect x="956.6" y="1533.40" width="301.5" height="2.6" fill="#7f7f7f"/>
<rect x="956.6" y="1583.35" width="301.5" height="2.6" fill="#7f7f7f"/>
<rect x="956.6" y="1633.30" width="301.5" height="2.6" fill="#7f7f7f"/>
<rect x="956.6" y="1683.25" width="301.5" height="2.6" fill="#7f7f7f"/>
<rect x="956.6" y="1733.20" width="301.5" height="2.6" fill="#7f7f7f"/>
<rect x="956.6" y="1783.15" width="301.5" height="2.6" fill="#7f7f7f"/>
<text x="975.00" y="1269.80" font-size="34.40" fill="#2b2a29" textLength="145.49" lengthAdjust="spacingAndGlyphs">Euro area</text>
<text x="1191.39" y="1269.80" font-size="34.40" fill="#2b2a29" textLength="45.67" lengthAdjust="spacingAndGlyphs" font-weight="bold">1.9</text>
<text x="975.00" y="1319.75" font-size="34.40" fill="#2b2a29" textLength="82.84" lengthAdjust="spacingAndGlyphs">Brazil</text>
<text x="1191.22" y="1319.75" font-size="34.40" fill="#2b2a29" textLength="45.67" lengthAdjust="spacingAndGlyphs" font-weight="bold">1.8</text>
<text x="975.00" y="1369.70" font-size="34.40" fill="#2b2a29" textLength="103.11" lengthAdjust="spacingAndGlyphs">Austria</text>
<text x="1191.55" y="1369.70" font-size="34.40" fill="#2b2a29" textLength="45.67" lengthAdjust="spacingAndGlyphs" font-weight="bold">1.7</text>
<text x="975.00" y="1419.65" font-size="34.40" fill="#2b2a29" textLength="101.26" lengthAdjust="spacingAndGlyphs">Russia</text>
<text x="1191.55" y="1419.65" font-size="34.40" fill="#2b2a29" textLength="45.67" lengthAdjust="spacingAndGlyphs" font-weight="bold">1.7</text>
<text x="975.00" y="1469.60" font-size="34.40" fill="#2b2a29" textLength="119.69" lengthAdjust="spacingAndGlyphs">Belgium</text>
<text x="1191.39" y="1469.60" font-size="34.40" fill="#2b2a29" textLength="45.67" lengthAdjust="spacingAndGlyphs" font-weight="bold">1.6</text>
<text x="975.00" y="1519.55" font-size="34.40" fill="#2b2a29" textLength="108.65" lengthAdjust="spacingAndGlyphs">Finland</text>
<text x="1191.39" y="1519.55" font-size="34.40" fill="#2b2a29" textLength="45.67" lengthAdjust="spacingAndGlyphs" font-weight="bold">1.6</text>
<text x="975.00" y="1569.50" font-size="34.40" fill="#2b2a29" textLength="103.11" lengthAdjust="spacingAndGlyphs">France</text>
<text x="1191.39" y="1569.50" font-size="34.40" fill="#2b2a29" textLength="45.67" lengthAdjust="spacingAndGlyphs" font-weight="bold">1.6</text>
<text x="975.00" y="1619.45" font-size="34.40" fill="#2b2a29" textLength="171.24" lengthAdjust="spacingAndGlyphs">Switzerland</text>
<text x="1191.39" y="1619.45" font-size="34.40" fill="#2b2a29" textLength="45.67" lengthAdjust="spacingAndGlyphs" font-weight="bold">1.6</text>
<text x="975.00" y="1669.40" font-size="34.40" fill="#2b2a29" textLength="123.39" lengthAdjust="spacingAndGlyphs">Portugal</text>
<text x="1191.06" y="1669.40" font-size="34.40" fill="#2b2a29" textLength="45.67" lengthAdjust="spacingAndGlyphs" font-weight="bold">1.5</text>
<text x="975.00" y="1719.35" font-size="34.40" fill="#2b2a29" textLength="60.75" lengthAdjust="spacingAndGlyphs">Italy</text>
<text x="1190.40" y="1719.35" font-size="34.40" fill="#2b2a29" textLength="45.67" lengthAdjust="spacingAndGlyphs" font-weight="bold">1.4</text>
<text x="975.00" y="1769.30" font-size="34.40" fill="#2b2a29" textLength="90.26" lengthAdjust="spacingAndGlyphs">Japan</text>
<text x="1191.06" y="1769.30" font-size="34.40" fill="#2b2a29" textLength="45.67" lengthAdjust="spacingAndGlyphs" font-weight="bold">0.5</text>
<text x="237.97" y="1818.80" font-size="31.00" fill="#2b2a29" textLength="811.02" lengthAdjust="spacingAndGlyphs"><tspan font-size="21.70" dy="-6.20">*</tspan><tspan dy="6.20">Organization for Economic Cooperation and Development</tspan></text>
<text x="369.46" y="1854.00" font-size="31.00" fill="#2b2a29" textLength="548.58" lengthAdjust="spacingAndGlyphs"><tspan font-size="23.56" dy="-8.50">†</tspan><tspan dy="8.50">Angel Gurria, OECD secretary-general</tspan></text>
<text x="20.48" y="1900.30" font-size="27.50" fill="#2b2a29" textLength="526.01" lengthAdjust="spacingAndGlyphs">Source: OECD Economic Outlook database</text>
<text x="1026.29" y="1900.10" font-size="27.50" fill="#2b2a29" textLength="240.33" lengthAdjust="spacingAndGlyphs">© GRAPHIC NEWS</text>
<rect x="12.4" y="1912" width="1263.4" height="2.4" fill="#2b2a29"/>
</svg>
</body></html>
